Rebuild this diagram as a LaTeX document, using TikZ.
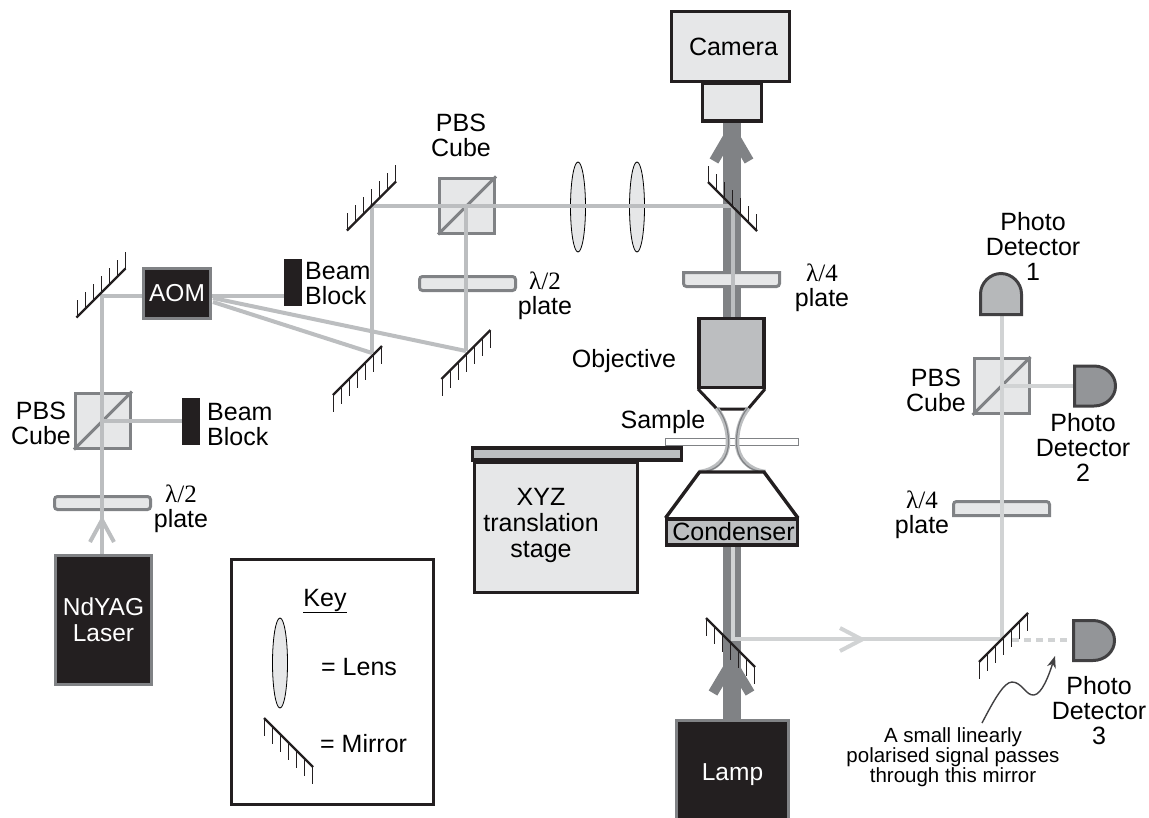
\documentclass[tikz,border=0pt]{standalone}
\usepackage{fontspec}
\setmainfont{Liberation Sans}
\newfontfamily\lamfont{Liberation Serif}
\usepackage{xcolor}
\usetikzlibrary{arrows.meta,positioning,calc,shapes.geometric}
\definecolor{inkblack}{HTML}{231F20}
\definecolor{platefill}{HTML}{E6E7E8}
\definecolor{edgegray}{HTML}{808285}
\definecolor{beamgray}{HTML}{BCBEC0}
\definecolor{beamlight}{HTML}{D1D3D4}
\definecolor{pdfill}{HTML}{939598}
\definecolor{pdedge}{HTML}{414042}
% x, y, slope sign, tick length (negative = up)
\newcommand{\mirrorat}[4]{
  \foreach \k in {-3,...,3} \draw[inkblack,line width=0.8pt] ({#1+\k*#3*8},{#2+\k*8}) -- ++(0,#4);
  \draw[inkblack,line width=2.4pt] ({#1-#3*24.5},{#2-24.5}) -- ({#1+#3*24.5},{#2+24.5});
}
\newcommand{\pdright}[2]{
  \draw[pdedge,fill=pdfill,line width=3pt] (#1+1.5,#2-20) -- (#1+21,#2-20)
    .. controls (#1+33,#2-20) and (#1+42.5,#2-11) .. (#1+42.5,#2)
    .. controls (#1+42.5,#2+11) and (#1+33,#2+20) .. (#1+21,#2+20) -- (#1+1.5,#2+20) -- cycle;
}
\begin{document}
\begin{tikzpicture}[x=1pt,y=-1pt,
  txt/.style={font=\fontsize{25}{25}\selectfont,align=center,inner sep=0pt},
  small/.style={font=\fontsize{20.5}{20}\selectfont,align=center,inner sep=0pt},
  blackbox/.style={draw=edgegray,fill=inkblack,line width=3pt,text=white,inner sep=0pt,align=center,font=\fontsize{24.5}{26}\selectfont},
  lightbox/.style={draw=inkblack,fill=platefill,line width=3.4pt,inner sep=0pt,align=center,font=\fontsize{25}{26}\selectfont},
  greybox/.style={draw=inkblack,fill=beamgray,line width=3.4pt,inner sep=0pt,align=center,font=\fontsize{25}{26}\selectfont},
  cube/.style={draw=edgegray,fill=platefill,line width=3pt,minimum width=55pt,minimum height=55pt,inner sep=0pt},
  block/.style={fill=inkblack,minimum width=18pt,minimum height=47pt,inner sep=0pt},
  lens/.style={ellipse,draw=black,fill=platefill,line width=0.8pt,minimum width=15pt,minimum height=90pt,inner sep=0pt},
  beam/.style={beamgray,line width=4pt},
  beamsig/.style={beamlight,line width=4pt},
  beamlamp/.style={edgegray,line width=18pt},
  barbdark/.style={edgegray,line width=10pt,miter limit=10},
  plate/.style={draw=edgegray,fill=platefill,line width=3pt}]
  \useasboundingbox (0,0) rectangle (1149,817);

  % lamp beam, under everything
  \coordinate (mlamp) at (731,642);
  \coordinate (mtop) at (732.5,205.5);
  \draw[barbdark] (714,161) -- (731.5,131) -- (749,161);
  \draw[barbdark] (713,693) -- (731.5,662) -- (750,693);
  \draw[beamlamp] (731.5,120) -- (731.5,317);
  \draw[beamlamp] (731.5,546) -- (731.5,722);

  % plates and cubes
  \draw[plate,rounded corners=3pt] (419.5,276.5) rectangle (515.5,290.5);
  \draw[plate,rounded corners=3pt] (54.5,496.5) rectangle (150.5,509.5);
  \draw[plate] (683.5,272.5) [rounded corners=3pt] -- (683.5,286.5) -- (779.5,286.5) [sharp corners] -- (779.5,272.5) -- cycle;
  \draw[plate] (953.5,515.5) [rounded corners=3pt] -- (953.5,501.5) -- (1049.5,501.5) [sharp corners] -- (1049.5,515.5) -- cycle;
  \node[cube] (pbsa) at (103,420.5) {};
  \node[cube] (pbsb) at (467,205.5) {};
  \node[cube] (pbsc) at (1001.5,386) {};
  \foreach \c in {pbsa,pbsb,pbsc}
    \draw[edgegray,line width=3pt] (\c.south west) -- (\c.north east);
  \node[lens] (lensa) at (578,207) {};
  \node[lens] (lensb) at (637,207) {};

  % boxes
  \node[blackbox,minimum width=96pt,minimum height=129pt] (laser) at (103.5,620) {NdYAG\\Laser};
  \node[blackbox,minimum width=67pt,minimum height=50pt] (aom) at (177,293.5) {AOM};
  \node[block] (blocka) at (293,282.5) {};
  \node[block] (blockb) at (191,421.5) {};
  \node[blackbox,minimum width=112pt,minimum height=108pt] (lamp) at (732.5,774.5) {Lamp};

  \coordinate (ma) at (102,296);
  \coordinate (mb) at (372,205.5);
  \coordinate (mc) at (372,353);
  \coordinate (md) at (466,351);
  \coordinate (pdone) at (1002,316);
  \coordinate (pdtwo) at (1073,386);
  \coordinate (pdthree) at (1072,640);
  \coordinate (msig) at (1002,639);

  % laser path
  \draw[beam] (laser.north -| ma) -- (ma) -- (aom.west |- ma);
  \draw[beam] (aom.east |- ma) -- (blocka.west |- ma);
  \draw[beam] (213,298) -- (md);
  \draw[beam] (213,302) -- (mc);
  \draw[beam] (mc) -- (mb) -- (mtop);
  \draw[beam] (md) -- (mb -| md);
  \draw[beam] (pbsa.center -| ma) -- (blockb.west |- pbsa.center);
  \draw[beam] (90,542) -- (102,520) -- (114,542);
  \draw[beam] (mtop) -- (732.5,317);

  % signal path
  \draw[beamsig] (732.5,546) -- (732.5,639) -- (msig) -- (pdone);
  \draw[beamsig] (840,628) -- (862,639.5) -- (840,651);
  \draw[beamsig] (pbsc.center -| msig) -- (pdtwo);
  \draw[beamsig,dash pattern=on 7pt off 5pt] (1012,640) -- (pdthree);

  % mirrors
  \mirrorat{101}{293}{-1}{-17}
  \mirrorat{371.5}{206}{-1}{-17}
  \mirrorat{357.5}{370.5}{-1}{17}
  \mirrorat{466}{354.5}{-1}{17}
  \mirrorat{732.5}{206.5}{1}{-17}
  \mirrorat{730.5}{642.5}{1}{17}
  \mirrorat{1003.5}{637.5}{-1}{17}

  % detectors
  \draw[pdedge,fill=beamgray!85!pdfill,line width=3pt] (980.5,314.5) -- (980.5,294)
    .. controls (980.5,283) and (990,273.5) .. (1001,273.5)
    .. controls (1012,273.5) and (1021.5,283) .. (1021.5,294) -- (1021.5,314.5) -- cycle;
  \pdright{1073}{386}
  \pdright{1072}{640.5}

  % microscope
  \node[lightbox,minimum width=118pt,minimum height=70pt] (camera) at (730.5,46.5) {\hspace*{6pt}Camera};
  \node[lightbox,minimum width=59pt,minimum height=38pt] (cameralow) at (732,102) {};
  \node[greybox,minimum width=65pt,minimum height=69pt] (objective) at (731.5,353) {};
  \draw[inkblack,fill=white,line width=3pt] (698,389) -- (717,409) -- (748,409) -- (765,389);
  \draw[draw=edgegray,fill=white,line width=1pt] (665.5,438.5) rectangle (798,445);
  \foreach \s in {1,-1} {
    \begin{scope}[shift={(732.5,0)},xscale=\s]
      \draw[beamgray,line width=4.5pt] (-16,408) .. controls (-9,417) and (-4.5,428) .. (-4.5,442)
        .. controls (-4.5,458) and (-16,470) .. (-33,472);
      \draw[edgegray,line width=1.2pt] (-15,408) .. controls (-8,417) and (-4,428) .. (-4,442)
        .. controls (-4,458) and (-14,469) .. (-26,471);
    \end{scope}
  }
  \draw[inkblack,fill=white,line width=3.4pt] (665.5,518) -- (699.5,472) -- (764,472) -- (798,518);
  \node[greybox,minimum width=131pt,minimum height=26pt] (condenser) at (732,532) {\hspace*{3pt}Condenser};
  \node[greybox,minimum width=209pt,minimum height=12pt] (stagetop) at (577,454) {};
  \node[lightbox,minimum width=163pt,minimum height=130pt,anchor=north west] (stage) at (472.5,461) {};
  \node[txt,font=\fontsize{25}{26}\selectfont] (stagetxt) at (541,525) {XYZ\\translation\\stage};

  % key
  \draw[inkblack,line width=3pt] (231.5,559.5) rectangle (433.5,804.5);
  \node[txt] (keyname) at (325,601) {\underline{Key}};
  \node[lens] (keylens) at (280,663) {};
  \node[txt,anchor=west] (keylenstxt) at (321,667) {= Lens};
  \mirrorat{288.5}{742.5}{1}{17}
  \node[txt,anchor=west] (keymirrortxt) at (320,744) {= Mirror};

  % labels
  \node[txt] (pbsatxt) at (41,423) {PBS\\Cube};
  \node[txt] (pbsbtxt) at (461,135) {PBS\\Cube};
  \node[txt] (pbsctxt) at (936,390.5) {PBS\\Cube};
  \node[txt,align=left,anchor=west] (blockatxt) at (305,284) {Beam\\Block};
  \node[txt,align=left,anchor=west] (blockbtxt) at (207,424.5) {Beam\\Block};
  \node[txt] (platea) at (181,509) {{\lamfont λ/2}\\plate};
  \node[txt] (plateb) at (545,296) {{\lamfont λ/2}\\plate};
  \node[txt] (platec) at (822,288) {{\lamfont λ/4}\\plate};
  \node[txt] (plated) at (922,515) {{\lamfont λ/4}\\plate};
  \node[txt] (objtxt) at (624,361) {Objective};
  \node[txt] (sampletxt) at (663,422) {Sample};
  \node[txt] (pdonetxt) at (1033,246) {Photo\\Detector\\1};
  \node[txt] (pdtwotxt) at (1083,447) {Photo\\Detector\\2};
  \node[txt] (pdthreetxt) at (1099,711) {Photo\\Detector\\3};
  \node[small] (note) at (953,757.5) {A small linearly\\polarised signal passes\\through this mirror};
  \coordinate (notetip) at (1055,656);
  \draw[pdedge,line width=1.4pt,-{Stealth[length=12pt,width=9pt]}] (982,723)
    .. controls (994,700) and (1004,682) .. (1012,682)
    .. controls (1022,682) and (1026,696) .. (1034,695)
    .. controls (1042,694) and (1049,675) .. (notetip);
\end{tikzpicture}
\end{document}
